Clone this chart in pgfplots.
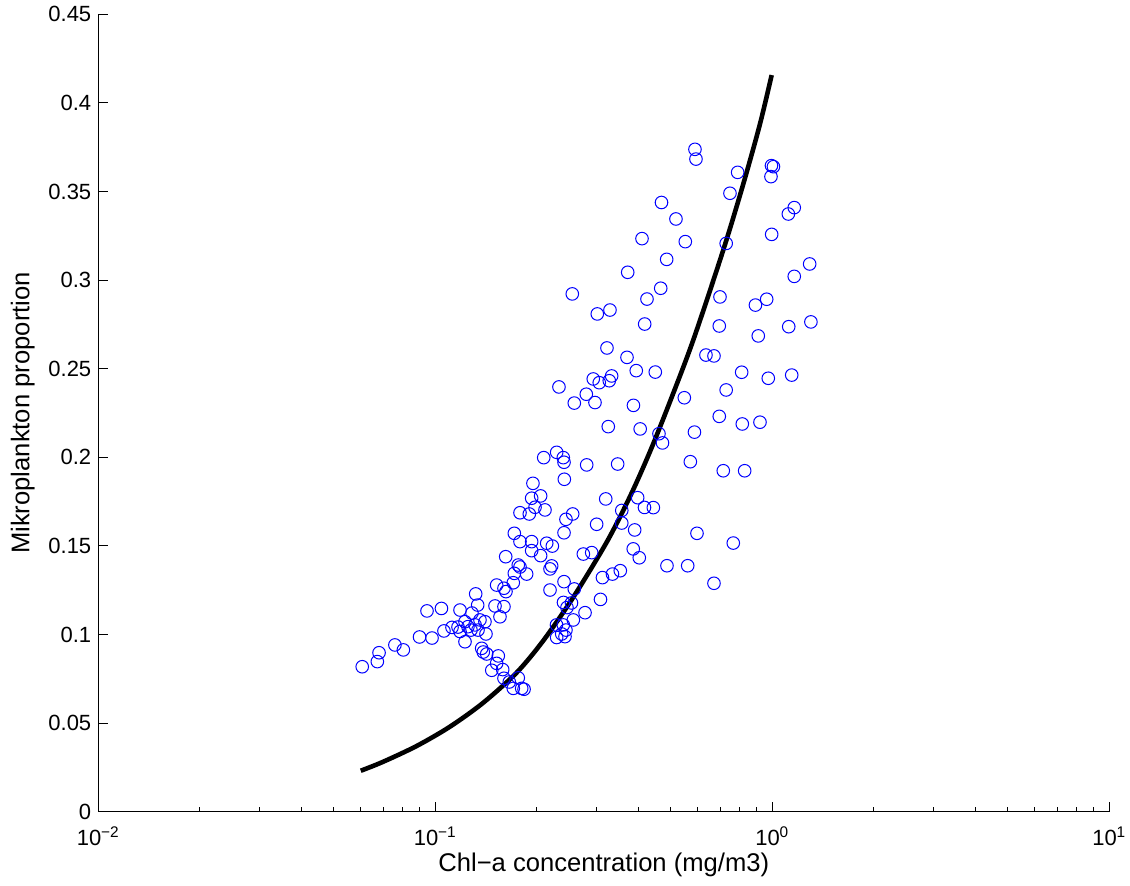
\documentclass[border=0pt]{standalone}
\usepackage{fontspec}
\setmainfont{Liberation Sans}
\usepackage{pgfplots}
\pgfplotsset{compat=1.18}
\definecolor{mBlue}{RGB}{0,0,255}

\begin{document}
\begin{tikzpicture}
\begin{axis}[
 at={(0,0)},anchor=south west,
 scale only axis,width=505.5pt,height=398.7pt,
 xmode=log,xmin=0.01,xmax=10,ymin=0,ymax=0.45,
 axis lines*=left,
 axis line style={line width=0.6pt},
 xtick={0.01,0.1,1,10},
 xticklabels={10\textsuperscript{−2},10\textsuperscript{−1},10\textsuperscript{0},10\textsuperscript{1}},
 ytick={0,0.05,0.1,0.15,0.2,0.25,0.3,0.35,0.4,0.45},
 yticklabels={0,0.05,0.1,0.15,0.2,0.25,0.3,0.35,0.4,0.45},
 tick align=inside,major tick length=5pt,minor tick length=2.5pt,
 tick style={line width=0.5pt,black},
 tick label style={font=\fontsize{11}{13}\selectfont},
 xticklabel style={yshift=-4pt},
 xlabel={Chl−a concentration (mg/m3)},
 ylabel={Mikroplankton proportion},
 label style={font=\fontsize{12.8}{15}\selectfont},
 xlabel style={yshift=3pt},
 ylabel style={yshift=0pt},
]
\addplot[only marks,mark=o,mark size=3.15pt,mark options={draw=mBlue,line width=0.5pt}] table {
x y
0.0607 0.0818
0.0673 0.0847
0.0681 0.0897
0.0759 0.0941
0.0804 0.0913
0.0898 0.0986
0.0945 0.1133
0.0978 0.0980
0.1043 0.1147
0.1061 0.1020
0.1121 0.1040
0.1168 0.1042
0.1184 0.1138
0.1184 0.1017
0.1225 0.1072
0.1250 0.1044
0.1276 0.1025
0.1285 0.1121
0.1312 0.1054
0.1339 0.1025
0.1357 0.1082
0.1404 0.1072
0.1414 0.1003
0.1225 0.0959
0.1318 0.1229
0.1336 0.1166
0.1373 0.0922
0.1388 0.0901
0.1421 0.0890
0.1504 0.1161
0.1556 0.1100
0.1599 0.1157
0.1521 0.1279
0.1599 0.1261
0.1621 0.1242
0.1538 0.0879
0.1521 0.0837
0.1471 0.0798
0.1585 0.0802
0.1599 0.0753
0.1658 0.0732
0.1763 0.0755
0.1704 0.0696
0.1805 0.0696
0.1834 0.0691
0.1704 0.1292
0.1716 0.1345
0.1763 0.1392
0.1784 0.1381
0.1867 0.1341
0.1618 0.1439
0.1716 0.1571
0.1784 0.1524
0.1932 0.1524
0.1932 0.1473
0.2054 0.1445
0.2141 0.1515
0.2225 0.1499
0.2215 0.1387
0.2190 0.1370
0.1784 0.1687
0.1901 0.1680
0.1977 0.1718
0.2116 0.1703
0.1949 0.1853
0.1932 0.1769
0.2054 0.1782
0.2098 0.1998
0.2292 0.2028
0.2398 0.1998
0.2410 0.1972
0.2415 0.1876
0.2557 0.1680
0.2442 0.1650
0.2410 0.1574
0.2814 0.1957
0.3012 0.1622
0.2410 0.1298
0.2585 0.1257
0.2190 0.1251
0.2750 0.1454
0.2912 0.1462
0.2401 0.1181
0.2459 0.1152
0.2536 0.1178
0.2568 0.1082
0.2782 0.1123
0.3092 0.1198
0.2289 0.1054
0.2398 0.1054
0.2442 0.1025
0.2372 0.1003
0.2292 0.0983
0.2426 0.0988
0.2585 0.2306
0.2978 0.2309
0.3873 0.2293
0.3261 0.2173
0.4055 0.2160
0.4611 0.2133
0.4723 0.2081
0.3477 0.1962
0.3205 0.1765
0.3987 0.1772
0.4176 0.1717
0.4437 0.1716
0.3576 0.1700
0.3576 0.1629
0.3906 0.1590
0.3868 0.1483
0.4030 0.1433
0.3134 0.1321
0.3356 0.1341
0.3540 0.1360
0.4870 0.1388
0.3724 0.3044
0.2550 0.2922
0.4666 0.2954
0.4248 0.2893
0.3025 0.2809
0.3299 0.2831
0.4182 0.2752
0.3232 0.2617
0.3706 0.2564
0.3948 0.2489
0.4496 0.2481
0.2943 0.2442
0.3066 0.2421
0.3337 0.2459
0.3283 0.2432
0.2328 0.2397
0.2806 0.2356
0.5482 0.2336
0.5876 0.2142
0.5896 0.3738
0.5937 0.3683
0.7894 0.3608
0.7490 0.3490
0.9945 0.3646
1.0080 0.3640
0.9911 0.3584
0.4691 0.3438
0.5178 0.3345
1.1620 0.3409
1.1160 0.3373
0.4106 0.3234
0.5519 0.3217
0.7298 0.3207
0.9958 0.3258
0.4860 0.3117
1.2910 0.3091
1.1620 0.3021
0.6996 0.2905
0.9625 0.2892
0.8913 0.2859
0.6962 0.2741
1.1190 0.2737
1.3020 0.2764
0.9087 0.2685
0.6357 0.2577
0.6714 0.2572
0.8113 0.2480
0.9730 0.2446
1.1420 0.2464
0.7298 0.2380
0.6962 0.2231
0.8147 0.2188
0.9194 0.2198
0.5712 0.1975
0.7155 0.1924
0.8281 0.1924
0.5978 0.1571
0.7661 0.1516
0.5611 0.1388
0.6714 0.1289
};
\addplot[black,line width=2.3pt,smooth,no marks] table {
x y
0.0601 0.0231
0.0701 0.0282
0.0881 0.0371
0.1106 0.0480
0.1388 0.0615
0.1744 0.0785
0.2091 0.0965
0.2567 0.1210
0.3226 0.1521
0.3782 0.1778
0.4336 0.2032
0.4971 0.2314
0.5829 0.2662
0.7155 0.3170
0.8201 0.3542
0.9194 0.3881
0.9958 0.4157
};
\end{axis}
\pgfresetboundingbox
\useasboundingbox (-49.15pt,-37.15pt) rectangle (515.85pt,405.85pt);
\end{tikzpicture}
\end{document}
